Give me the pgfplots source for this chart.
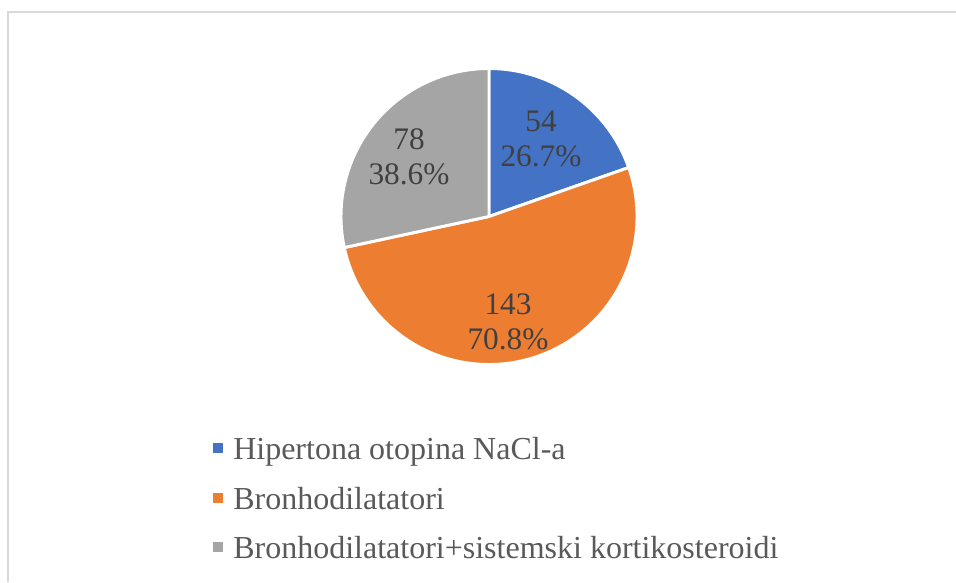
\documentclass[border=0pt]{standalone}
\usepackage{pgfplots}
\pgfplotsset{compat=1.18}
\usepackage{pgfplotstable}
\usepackage{fontspec}
\setmainfont{Liberation Serif}
\definecolor{cblue}{HTML}{4472C4}
\definecolor{corange}{HTML}{ED7D31}
\definecolor{cgray}{HTML}{A5A5A5}
\definecolor{cframe}{HTML}{D9D9D9}
\definecolor{clabel}{HTML}{404040}
\definecolor{clegend}{HTML}{595959}
\pgfplotstableread{
label value pct
Hipertona 54 26.7
Bronho 143 70.8
Kombi 78 38.6
}\datatable
\begin{document}
\begin{tikzpicture}
\pgfplotstablegetelem{0}{value}\of\datatable \let\va\pgfplotsretval
\pgfplotstablegetelem{1}{value}\of\datatable \let\vb\pgfplotsretval
\pgfplotstablegetelem{2}{value}\of\datatable \let\vc\pgfplotsretval
\pgfmathsetmacro\tot{\va+\vb+\vc}
\pgfmathsetmacro\aA{90-\va/\tot*360}
\pgfmathsetmacro\aB{\aA-\vb/\tot*360}
\pgfmathsetmacro\aC{\aB-\vc/\tot*360}
\begin{axis}[
  at={(0,0)}, anchor=south west,
  scale only axis, width=717pt, height=436.5pt,
  xmin=0, xmax=956, ymin=0, ymax=582, y dir=reverse,
  hide axis, clip=false]
  % frame (top and left edges visible)
  \draw[cframe, line width=1.2pt] (axis cs:8,582) -- (axis cs:8,12) -- (axis cs:956,12);
  % pie
  \fill[cblue, draw=white, line width=2.2pt, line join=round]
    (axis cs:489,216.5) -- ([shift={(90:111pt)}]axis cs:489,216.5) arc[start angle=90, end angle=\aA, radius=111pt] -- cycle;
  \fill[corange, draw=white, line width=2.2pt, line join=round]
    (axis cs:489,216.5) -- ([shift={(\aA:111pt)}]axis cs:489,216.5) arc[start angle=\aA, end angle=\aB, radius=111pt] -- cycle;
  \fill[cgray, draw=white, line width=2.2pt, line join=round]
    (axis cs:489,216.5) -- ([shift={(\aB:111pt)}]axis cs:489,216.5) arc[start angle=\aB, end angle=\aC, radius=111pt] -- cycle;
  % data labels
  \node[clabel, align=center, font=\fontsize{23.5}{26.5}\selectfont] at (axis cs:541,139) {54\\26.7\%};
  \node[clabel, align=center, font=\fontsize{23.5}{26.5}\selectfont] at (axis cs:508,322) {143\\70.8\%};
  \node[clabel, align=center, font=\fontsize{23.5}{26.5}\selectfont] at (axis cs:409,157) {78\\38.6\%};
  % legend
  \fill[cblue] (axis cs:213,443) rectangle (axis cs:223,453);
  \fill[corange] (axis cs:213,493) rectangle (axis cs:223,503);
  \fill[cgray] (axis cs:213,542) rectangle (axis cs:223,552);
  \node[clegend, anchor=base west, inner sep=0pt, font=\fontsize{24}{27}\selectfont] at (axis cs:233,459) {Hipertona otopina NaCl-a};
  \node[clegend, anchor=base west, inner sep=0pt, font=\fontsize{24}{27}\selectfont] at (axis cs:233,509) {Bronhodilatatori};
  \node[clegend, anchor=base west, inner sep=0pt, font=\fontsize{24}{27}\selectfont] at (axis cs:233,558) {Bronhodilatatori+sistemski kortikosteroidi};
\end{axis}
\pgfresetboundingbox
\path[use as bounding box] (0,0) rectangle (717pt,436.5pt);
\end{tikzpicture}
\end{document}
